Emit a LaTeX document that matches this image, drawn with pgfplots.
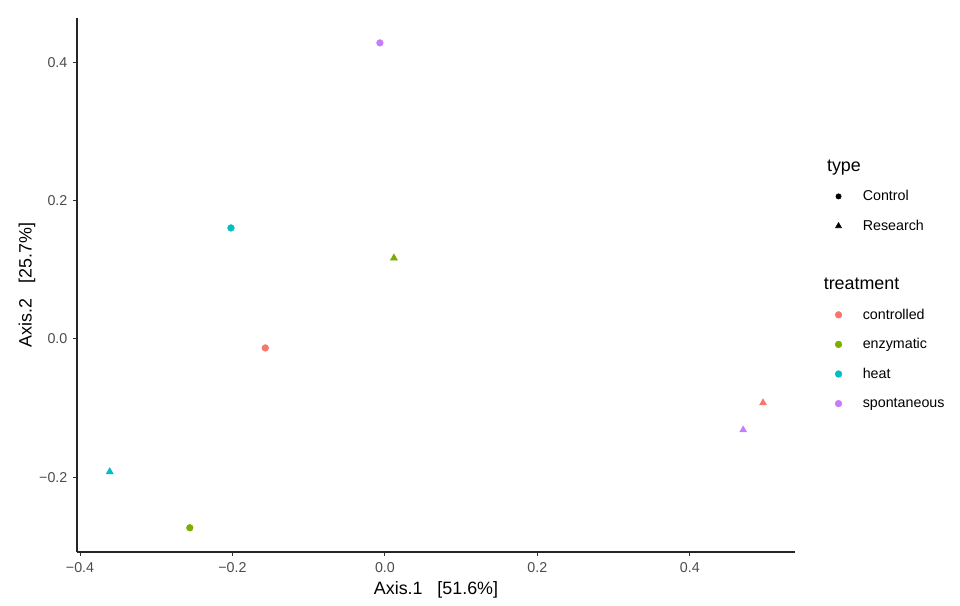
\documentclass[border=0pt]{standalone}
\usepackage{pgfplots}
\pgfplotsset{compat=1.18}
\usepackage{fontspec}
\setmainfont{Liberation Sans}
\definecolor{cctrl}{HTML}{F8766D}
\definecolor{cenz}{HTML}{7CAE00}
\definecolor{cheat}{HTML}{00BFC4}
\definecolor{cspon}{HTML}{C77CFF}
\begin{document}
\begin{tikzpicture}
\begin{axis}[
  scale only axis, width=538.5pt, height=400.5pt,
  at={(0,0)}, anchor=south west,
  xmin=-0.404, xmax=0.538, ymin=-0.308, ymax=0.464,
  axis lines*=left, axis line style={-, line width=1pt, black!85},
  xtick={-0.4,-0.2,0,0.2,0.4}, xticklabels={−0.4,−0.2,0.0,0.2,0.4},
  ytick={-0.2,0,0.2,0.4}, yticklabels={−0.2,0.0,0.2,0.4},
  tick align=outside, major tick length=3pt, tick style={black!80, line width=0.8pt},
  ticklabel style={font=\fontsize{10.7}{12}\selectfont, text=black!70},
  xticklabel style={anchor=north, inner sep=0pt, yshift=-5pt},
  yticklabel style={anchor=east, inner sep=0pt, xshift=-4pt},
  xlabel={Axis.1\ \ \ [51.6\%]}, ylabel={Axis.2\ \ \ [25.7\%]},
  every axis x label/.style={at={(rel axis cs:0.5,0)}, anchor=center, yshift=-28.5pt, font=\fontsize{13.4}{15}\selectfont},
  every axis y label/.style={at={(rel axis cs:0,0.5)}, anchor=center, xshift=-37.5pt, rotate=90, font=\fontsize{13.4}{15}\selectfont},
  clip=false,
  legend image code/.code={\path (0pt,0pt) (22.5pt,0pt); \draw[#1] plot coordinates {(11.25pt,0pt)};},
  legend cell align=left,
  legend style={draw=none, fill=none, at={(1.039,0.7338)}, anchor=north west,
    inner sep=0pt, row sep=12.6pt, column sep=6.75pt,
    nodes={inner sep=0pt, text height=8pt, text depth=1.6pt},
    font=\fontsize{10.7}{12}\selectfont},
]
% Control (circles)
\addplot[forget plot, only marks, mark=*, mark size=2.5pt, color=cctrl] coordinates {(-0.157,-0.013)};
\addplot[forget plot, only marks, mark=*, mark size=2.5pt, color=cenz] coordinates {(-0.256,-0.273)};
\addplot[forget plot, only marks, mark=*, mark size=2.5pt, color=cheat] coordinates {(-0.202,0.1605)};
\addplot[forget plot, only marks, mark=*, mark size=2.5pt, color=cspon] coordinates {(-0.0066,0.428)};
% Research (triangles)
\addplot[forget plot, only marks, mark=triangle*, mark size=3pt, color=cctrl] coordinates {(0.496,-0.0925)};
\addplot[forget plot, only marks, mark=triangle*, mark size=3pt, color=cenz] coordinates {(0.0118,0.117)};
\addplot[forget plot, only marks, mark=triangle*, mark size=3pt, color=cheat] coordinates {(-0.361,-0.192)};
\addplot[forget plot, only marks, mark=triangle*, mark size=3pt, color=cspon] coordinates {(0.470,-0.1316)};
% legend
\addlegendimage{empty legend}\addlegendentry{\hspace*{-29.25pt}\fontsize{13.4}{15}\selectfont type}
\addlegendimage{only marks, mark=*, mark size=2pt, black}\addlegendentry{Control}
\addlegendimage{only marks, mark=triangle*, mark size=2.6pt, black}\addlegendentry{Research}
\addlegendimage{empty legend}\addlegendentry{}
\addlegendimage{empty legend}\addlegendentry{\hspace*{-29.25pt}\fontsize{13.4}{15}\selectfont treatment}
\addlegendimage{only marks, mark=*, mark size=2.5pt, cctrl}\addlegendentry{controlled}
\addlegendimage{only marks, mark=*, mark size=2.5pt, cenz}\addlegendentry{enzymatic}
\addlegendimage{only marks, mark=*, mark size=2.5pt, cheat}\addlegendentry{heat}
\addlegendimage{only marks, mark=*, mark size=2.5pt, cspon}\addlegendentry{spontaneous}
\end{axis}
\pgfresetboundingbox
\path[use as bounding box] (-57.75pt,-40.5pt) rectangle (662.25pt,414pt);
\end{tikzpicture}
\end{document}
